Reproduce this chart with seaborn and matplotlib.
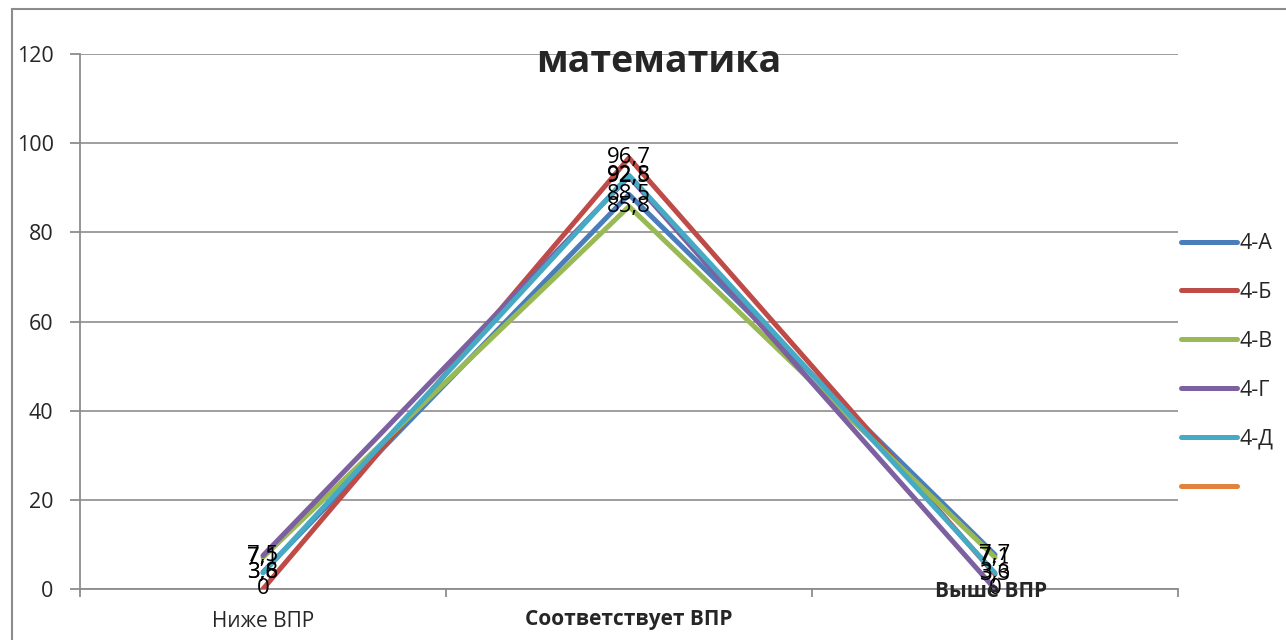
import pandas as pd
import seaborn as sns
import matplotlib.pyplot as plt
from matplotlib.lines import Line2D
from matplotlib.patches import Rectangle

# данные диаграммы
categories = ["Ниже ВПР", "Соответствует ВПР", "Выше ВПР"]
classes = ["4-А", "4-Б", "4-В", "4-Г", "4-Д"]
val_4a = [3.8, 88.5, 7.7]
val_4b = [0.0, 96.7, 3.3]
val_4v = [7.1, 85.8, 7.1]
val_4g = [7.5, 92.5, 0.0]
val_4d = [3.6, 92.8, 3.6]
colors = ["#4A7EBB", "#BE4B48", "#98B954", "#7D60A0", "#46AAC5"]
extra_color = "#E3823A"

sns.set_theme(style="white")
plt.rcParams["font.family"] = ["Open Sans", "DejaVu Sans"]

rows = []
for cls, vals in zip(classes, [val_4a, val_4b, val_4v, val_4g, val_4d]):
    for i, v in enumerate(vals):
        rows.append({"класс": cls, "x": i, "значение": v})
df = pd.DataFrame(rows)

fig = plt.figure(figsize=(12.86, 6.4), dpi=100)
ax = fig.add_axes([80 / 1286, 1 - 589 / 640, (1178 - 80) / 1286, (589 - 54) / 640])

sns.lineplot(data=df, x="x", y="значение", hue="класс", palette=colors,
             linewidth=3.6, sort=False, legend=False, ax=ax,
             solid_capstyle="round", zorder=3)

# подписи данных
for cls, vals in zip(classes, [val_4a, val_4b, val_4v, val_4g, val_4d]):
    for i, v in enumerate(vals):
        txt = ("%g" % v).replace(".", ",")
        ax.text(i, v, txt, ha="center", va="center", fontsize=16,
                color="black", zorder=5)

ax.set_xlim(-0.5, 2.5)
ax.set_ylim(0, 120)
ax.set_yticks(range(0, 121, 20))
ax.yaxis.grid(True, color="#969696", linewidth=1.3)
ax.set_axisbelow(True)
for s in ["top", "right"]:
    ax.spines[s].set_visible(False)
for s in ["left", "bottom"]:
    ax.spines[s].set_color("#8c8c8c")
    ax.spines[s].set_linewidth(1.3)

ax.set_xticks([0, 1, 2])
ax.set_xticklabels(["", "", ""])
ax.set_xticks([-0.5, 0.5, 1.5, 2.5], minor=True)
ax.tick_params(axis="x", which="major", length=0)
ax.tick_params(axis="x", which="minor", length=6, color="#8c8c8c", width=1.3,
               direction="out", bottom=True)
ax.tick_params(axis="y", length=7, color="#8c8c8c", width=1.3, direction="out",
               left=True, labelsize=15.5, pad=12)
ax.set_xlabel("")
ax.set_ylabel("")

# подписи категорий
ax.text(0, -7.2, categories[0], ha="center", va="center", fontsize=15,
        clip_on=False)
ax.text(1, -6.8, categories[1], ha="center", va="center", fontsize=15,
        fontweight="bold", clip_on=False)
ax.text(1.99, -0.5, categories[2], ha="center", va="center", fontsize=15,
        fontweight="bold", clip_on=False, zorder=6)

fig.text(659 / 1286, 1 - 62 / 640, "математика", ha="center", va="center",
         fontsize=27, fontweight="bold")

handles = [Line2D([0], [0], color=c, lw=3.6, solid_capstyle="round") for c in colors]
handles.append(Line2D([0], [0], color=extra_color, lw=3.6, solid_capstyle="round"))
labels = classes + [""]
fig.legend(handles, labels, loc="center left",
           bbox_to_anchor=(1181 / 1286, 1 - 366 / 640), frameon=False,
           fontsize=15.5, handlelength=2.6, handletextpad=0.1, labelspacing=1.3,
           borderpad=0, borderaxespad=0)

fig.add_artist(Rectangle((12 / 1286, -0.1), 1.2, 1 - 9 / 640 + 0.1,
                         transform=fig.transFigure, fill=False,
                         edgecolor="#8c8c8c", linewidth=1.5))

plt.savefig("out.png", dpi=100)
